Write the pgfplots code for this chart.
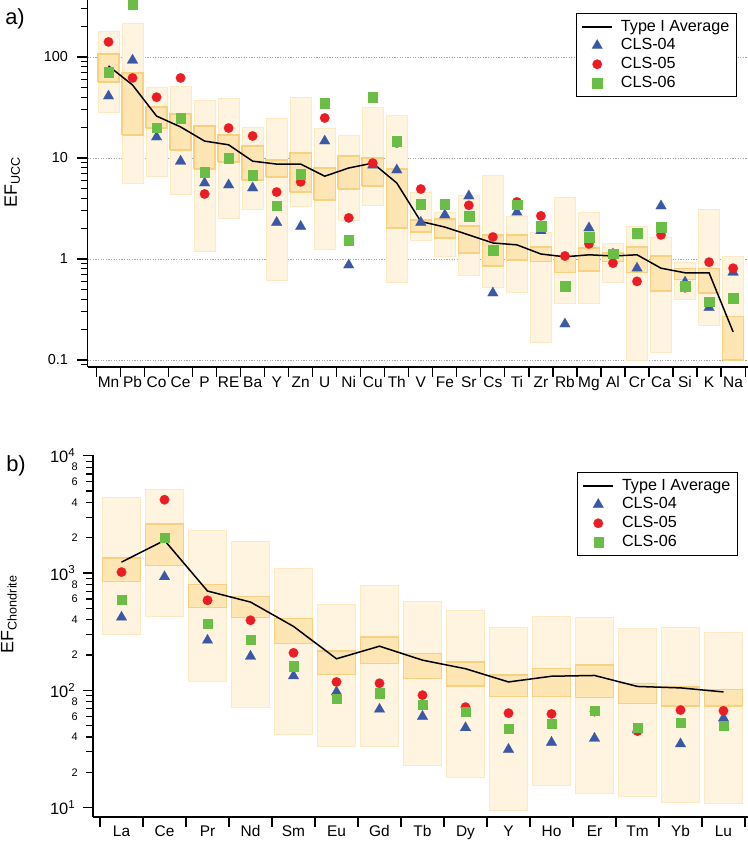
\documentclass[border=0pt]{standalone}
\usepackage{pgfplots}
\pgfplotsset{compat=1.18}
\usepackage{pgfplotstable}
\usepackage{fontspec}
\setmainfont{Liberation Sans}

\definecolor{obfill}{RGB}{254,244,224}
\definecolor{obdraw}{RGB}{253,233,196}
\definecolor{ibfill}{RGB}{253,229,180}
\definecolor{ibdraw}{RGB}{249,208,128}
\definecolor{cblue}{RGB}{59,88,166}
\definecolor{cred}{RGB}{236,28,36}
\definecolor{cgreen}{RGB}{106,189,69}

% i outer-low outer-high inner-low inner-high average CLS-04 CLS-05 CLS-06
\pgfplotstableread{
i olo ohi ilo ihi avg b r g
0 28.5 181 56.5 107 81.5 41 141 71
1 5.65 217 16.9 69.5 52.8 93 62 330
2 6.6 50.5 19.8 32 26 16.1 40 20
3 4.4 51.6 12 27.3 20.3 9.3 62 24.9
4 1.2 37.5 7.8 20.7 14.7 5.65 4.4 7.26
5 2.55 39.3 9.1 16.9 13.5 5.4 19.8 10
6 3.1 20.3 6.05 13.2 9.3 5.05 16.5 6.8
7 0.62 24.9 6.5 9.55 8.7 2.3 4.6 3.4
8 3.3 40 4.6 11.2 8.7 2.1 5.8 6.95
9 1.23 19.8 3.84 7.95 6.6 14.7 24.9 35
10 2.43 16.9 4.93 10.5 7.96 0.87 2.55 1.54
11 3.43 32 5.3 10 8.9 8.5 8.9 40
12 0.59 26.7 2.03 7.8 5.65 7.6 14.1 14.7
13 1.54 4.6 1.85 2.43 2.35 2.3 4.93 3.5
14 1.05 2.92 1.61 2.49 2.07 2.73 nan 3.5
15 0.68 4.3 1.15 2.12 1.73 4.2 3.4 2.67
16 0.52 6.8 0.85 1.73 1.44 0.46 1.65 1.23
17 0.47 2.67 0.98 1.73 1.38 2.9 3.67 3.45
18 0.15 1.85 0.95 1.31 1.12 1.9 2.67 2.12
19 0.36 4.1 0.73 1.07 1.05 0.227 1.07 0.54
20 0.36 2.92 0.76 1.29 1.1 2.03 1.41 1.65
21 0.58 1.44 0.95 1.15 1.07 1.12 0.91 1.13
22 0.1 2.12 0.73 1.31 1.1 0.81 0.6 1.81
23 0.12 1.65 0.48 1.07 0.81 3.35 1.73 2.07
24 0.4 0.93 0.63 0.8 0.73 0.59 0.52 0.54
25 0.22 3.1 0.46 0.8 0.73 0.33 0.93 0.38
26 0.1 1.05 0.1 0.27 0.19 0.74 0.81 0.41
}\topdata

\pgfplotstableread{
i olo ohi ilo ihi avg b r g
0 299 4440 850 1340 1240 420 1020 597
1 425 5150 1160 2630 1900 930 4220 2000
2 120 2310 507 800 703 267 586 371
3 71 1860 417 634 566 195 396 271
4 42 1090 251 410 351 133 209 161
5 33.5 542 137 217 186 97 118 85
6 33.5 785 169 285 238 69 115 95
7 23 578 126 206 181 60 91 76
8 18 482 109 175 153 48 72 66
9 9.55 347 89 135 118 31.4 64 47.5
10 15.6 431 89 154 132 36 63 52
11 13.2 417 87 164 134 39 66 67
12 12.4 336 77 115 108 46 45 48.3
13 11 343 73.5 107 105 35 68 53
14 10.9 315 73.5 102 97 58 67 50
}\botdata

\pgfplotsset{
  obox/.style={fill=obfill, draw=obdraw, line width=0.8bp, forget plot},
  ibox/.style={fill=ibfill, draw=ibdraw, line width=1.4bp, forget plot},
  legend image code/.code={\draw[mark repeat=2,mark phase=2,#1] plot coordinates {(0bp,0bp)(15bp,0bp)(30bp,0bp)};},
  myaxis/.style={
    scale only axis, clip=false,
    axis x line*=bottom, axis y line*=left,
    axis line style={line width=1.7bp},
    tick style={line width=1.2bp, black},
    tick align=outside, tick pos=left,
    major tick length=10bp, minor tick length=6.5bp,
    xticklabels={},
    extra x tick style={major tick length=0pt, grid=none,
      xticklabel style={yshift=-5bp, text height=11.5bp, text depth=0pt}},
    tick label style={font=\fontsize{15.5}{16}\selectfont},
    legend style={draw=black, line width=1.1bp, fill=white, anchor=north west,
      inner xsep=5bp, inner ysep=4bp, column sep=6bp,
      font=\fontsize{16.2}{18.7}\selectfont,
      nodes={inner xsep=2bp, inner ysep=1.5bp, text height=12.2bp, text depth=3.5bp},
      cells={anchor=west}},
  },
}

\begin{document}
\begin{tikzpicture}
\useasboundingbox (0bp,0bp) rectangle (748bp,844bp);

\node[font=\fontsize{22}{22}\selectfont] at (15bp,825bp) {a)};
\node[font=\fontsize{22}{22}\selectfont] at (16bp,378bp) {b)};

% ---------------- top panel ----------------
\begin{axis}[myaxis, ymode=log, at={(87.5bp,477bp)}, anchor=south west,
  width=660bp, height=367bp,
  xmin=-0.875, xmax=26.6, ymin=0.0852, ymax=366.8,
  xtick={-0.5,0.5,...,26.5},
  extra x ticks={0,1,...,26},
  extra x tick labels={Mn,Pb,Co,Ce,P,RE,Ba,Y,Zn,U,Ni,Cu,Th,V,Fe,Sr,Cs,Ti,Zr,Rb,Mg,Al,Cr,Ca,Si,K,Na},
  ytick={0.1,1,10,100}, yticklabels={0.1,1,10,100},
  yticklabel style={font=\fontsize{14.5}{15}\selectfont, xshift=-6bp},
  minor ytick={0.09,0.2,0.3,0.4,0.5,0.6,0.7,0.8,0.9,2,3,4,5,6,7,8,9,20,30,40,50,60,70,80,90,200,300},
  ymajorgrids,
  major grid style={gray!70, line width=0.6bp, dash pattern=on 1.2bp off 1.4bp},
  ylabel={EF\textsubscript{UCC}},
  ylabel style={at={(axis description cs:-0.114,0.504)}, anchor=center, font=\fontsize{18}{18}\selectfont},
  legend style={at={(axis description cs:0.740,0.9646)}},
]
\pgfplotsinvokeforeach{0,...,26}{
  \pgfplotstablegetelem{#1}{olo}\of\topdata \let\olo\pgfplotsretval
  \pgfplotstablegetelem{#1}{ohi}\of\topdata \let\ohi\pgfplotsretval
  \pgfmathsetmacro\xa{#1-0.44}
  \pgfmathsetmacro\xb{#1+0.44}
  \edef\tmp{\noexpand\addplot[obox] coordinates {(\xa,\olo) (\xb,\olo) (\xb,\ohi) (\xa,\ohi) (\xa,\olo)};}
  \tmp
}
\pgfplotsinvokeforeach{0,...,26}{
  \pgfplotstablegetelem{#1}{ilo}\of\topdata \let\ilo\pgfplotsretval
  \pgfplotstablegetelem{#1}{ihi}\of\topdata \let\ihi\pgfplotsretval
  \pgfmathsetmacro\xa{#1-0.44}
  \pgfmathsetmacro\xb{#1+0.44}
  \edef\tmp{\noexpand\addplot[ibox] coordinates {(\xa,\ilo) (\xb,\ilo) (\xb,\ihi) (\xa,\ihi) (\xa,\ilo)};}
  \tmp
}
\addplot[black, line width=1.5bp, mark=none] table[x=i, y=avg] {\topdata};
\addplot[only marks, mark=triangle*, mark size=6.2bp, mark options={draw=cblue, fill=cblue, line width=0.1bp}] table[x=i, y=b] {\topdata};
\addplot[only marks, mark=*, mark size=4.8bp, mark options={draw=cred, fill=cred, line width=0.1bp}] table[x=i, y=r] {\topdata};
\addplot[only marks, mark=square*, mark size=4.7bp, mark options={draw=cgreen, fill=cgreen, line width=0.1bp}] table[x=i, y=g] {\topdata};
\legend{Type I Average, CLS-04, CLS-05, CLS-06}
\end{axis}

% ---------------- bottom panel ----------------
\begin{axis}[myaxis, ymode=log, at={(92.7bp,27.3bp)}, anchor=south west,
  width=655.3bp, height=361.7bp,
  xmin=-0.67, xmax=14.57, ymin=8.38, ymax=10150,
  xtick={-0.5,0.5,...,14.5},
  extra x ticks={0,1,...,14},
  extra x tick labels={La,Ce,Pr,Nd,Sm,Eu,Gd,Tb,Dy,Y,Ho,Er,Tm,Yb,Lu},
  ytick={10,100,1000,10000},
  yticklabels={10\textsuperscript{1},10\textsuperscript{2},10\textsuperscript{3},10\textsuperscript{4}},
  yticklabel style={font=\fontsize{16.5}{17}\selectfont, xshift=-4bp},
  extra y ticks={20,40,60,80,200,400,600,800,2000,4000,6000,8000},
  extra y tick labels={2,4,6,8,2,4,6,8,2,4,6,8},
  extra y tick style={major tick length=6.5bp, yticklabel style={font=\fontsize{11}{11}\selectfont, xshift=-1bp}},
  minor ytick={30,50,70,90,300,500,700,900,3000,5000,7000,9000},
  ylabel={EF\textsubscript{Chondrite}},
  ylabel style={at={(axis description cs:-0.128,0.56)}, anchor=center, font=\fontsize{18}{18}\selectfont},
  legend style={at={(axis description cs:0.739,0.953)}},
]
\pgfplotsinvokeforeach{0,...,14}{
  \pgfplotstablegetelem{#1}{olo}\of\botdata \let\olo\pgfplotsretval
  \pgfplotstablegetelem{#1}{ohi}\of\botdata \let\ohi\pgfplotsretval
  \pgfmathsetmacro\xa{#1-0.445}
  \pgfmathsetmacro\xb{#1+0.445}
  \edef\tmp{\noexpand\addplot[obox] coordinates {(\xa,\olo) (\xb,\olo) (\xb,\ohi) (\xa,\ohi) (\xa,\olo)};}
  \tmp
}
\pgfplotsinvokeforeach{0,...,14}{
  \pgfplotstablegetelem{#1}{ilo}\of\botdata \let\ilo\pgfplotsretval
  \pgfplotstablegetelem{#1}{ihi}\of\botdata \let\ihi\pgfplotsretval
  \pgfmathsetmacro\xa{#1-0.445}
  \pgfmathsetmacro\xb{#1+0.445}
  \edef\tmp{\noexpand\addplot[ibox] coordinates {(\xa,\ilo) (\xb,\ilo) (\xb,\ihi) (\xa,\ihi) (\xa,\ilo)};}
  \tmp
}
\addplot[black, line width=1.5bp, mark=none] table[x=i, y=avg] {\botdata};
\addplot[only marks, mark=triangle*, mark size=6.2bp, mark options={draw=cblue, fill=cblue, line width=0.1bp}] table[x=i, y=b] {\botdata};
\addplot[only marks, mark=*, mark size=4.8bp, mark options={draw=cred, fill=cred, line width=0.1bp}] table[x=i, y=r] {\botdata};
\addplot[only marks, mark=square*, mark size=4.7bp, mark options={draw=cgreen, fill=cgreen, line width=0.1bp}] table[x=i, y=g] {\botdata};
\legend{Type I Average, CLS-04, CLS-05, CLS-06}
\end{axis}
\end{tikzpicture}
\end{document}
